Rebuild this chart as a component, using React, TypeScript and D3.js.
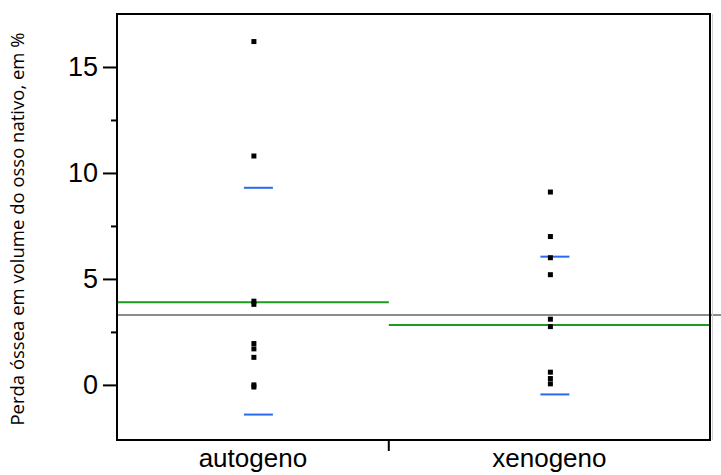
import * as d3 from "d3";
import { useEffect, useRef } from "react";

// groups and sample sizes (JMP scales group width by n)
const groups = ["autogeno", "xenogeno"];
const groupN = [11, 13];

// individual observations, % loss of native bone volume
const autogenoValues = [16.2, 10.8, 3.95, 3.8, 1.95, 1.7, 1.3, 0.0, -0.1];
const xenogenoValues = [9.1, 7.0, 6.0, 5.2, 3.1, 2.75, 0.6, 0.3, 0.05];

// group means and mean ± sd
const groupMeans = [3.9, 2.83];
const groupUpper = [9.3, 6.05];
const groupLower = [-1.4, -0.45];
const grandMean = 3.3;

const majorTicks = [0, 5, 10, 15];
const minorTicks = [2.5, 7.5, 12.5];

export default function App() {
  const ref = useRef<SVGSVGElement>(null);

  useEffect(() => {
    const svg = d3.select(ref.current);
    svg.selectAll("*").remove();

    const left = 117,
      right = 710,
      top = 14,
      bottom = 440;

    const y = d3.scaleLinear().domain([-2.6, 17.5]).range([bottom, top]);

    const total = d3.sum(groupN);
    const x = d3.scaleLinear().domain([0, total]).range([left, right]);
    const starts = groupN.map((_, i) => d3.sum(groupN.slice(0, i)));
    const gx0 = (i: number) => x(starts[i]);
    const gx1 = (i: number) => x(starts[i] + groupN[i]);
    const gc = (i: number) => (gx0(i) + gx1(i)) / 2;

    // grand mean line
    svg
      .append("line")
      .attr("x1", left)
      .attr("x2", 721)
      .attr("y1", y(grandMean))
      .attr("y2", y(grandMean))
      .attr("stroke", "#8c8c8c")
      .attr("stroke-width", 2);

    // group means
    svg
      .selectAll("line.mean")
      .data(groupMeans)
      .join("line")
      .attr("class", "mean")
      .attr("x1", (_, i) => gx0(i))
      .attr("x2", (_, i) => gx1(i))
      .attr("y1", (d) => y(d))
      .attr("y2", (d) => y(d))
      .attr("stroke", "#1e9a1e")
      .attr("stroke-width", 2);

    // sd bars
    const sd = groupUpper
      .map((v, i) => ({ v, i }))
      .concat(groupLower.map((v, i) => ({ v, i })));
    svg
      .selectAll("line.sd")
      .data(sd)
      .join("line")
      .attr("class", "sd")
      .attr("x1", (d) => gc(d.i) - 9)
      .attr("x2", (d) => gc(d.i) + 20)
      .attr("y1", (d) => y(d.v))
      .attr("y2", (d) => y(d.v))
      .attr("stroke", "#2a6af0")
      .attr("stroke-width", 2);

    // points
    const pts = [autogenoValues, xenogenoValues].flatMap((vals, i) =>
      vals.map((v) => ({ v, i }))
    );
    svg
      .selectAll("rect.pt")
      .data(pts)
      .join("rect")
      .attr("class", "pt")
      .attr("x", (d) => gc(d.i) - 1.5)
      .attr("y", (d) => y(d.v) - 2.5)
      .attr("width", 5)
      .attr("height", 5)
      .attr("fill", "#000");

    // frame
    svg
      .append("rect")
      .attr("x", left)
      .attr("y", top)
      .attr("width", right - left)
      .attr("height", bottom - top)
      .attr("fill", "none")
      .attr("stroke", "#000")
      .attr("stroke-width", 2);

    svg
      .append("line")
      .attr("x1", 712.5)
      .attr("x2", 712.5)
      .attr("y1", top)
      .attr("y2", bottom)
      .attr("stroke", "#d0d0d0")
      .attr("stroke-width", 1);

    // y axis
    const ya = svg.append("g").attr("transform", `translate(${left},0)`);
    ya.call(
      d3
        .axisLeft(y)
        .tickValues(majorTicks)
        .tickSize(14)
        .tickPadding(5)
        .tickFormat(d3.format("d"))
    );
    ya.select(".domain").remove();
    ya.selectAll(".tick line").attr("stroke-width", 2);
    ya.selectAll(".tick text")
      .style("font-family", "Liberation Sans, Arial, sans-serif")
      .style("font-size", "27px")
      .attr("fill", "#000");

    const ym = svg.append("g").attr("transform", `translate(${left},0)`);
    ym.call(d3.axisLeft(y).tickValues(minorTicks).tickSize(6).tickFormat(() => ""));
    ym.select(".domain").remove();
    ym.selectAll(".tick line").attr("stroke-width", 2);

    // x axis: boundary tick and labels
    svg
      .append("line")
      .attr("x1", gx1(0))
      .attr("x2", gx1(0))
      .attr("y1", bottom)
      .attr("y2", bottom + 11)
      .attr("stroke", "#000")
      .attr("stroke-width", 2);

    svg
      .selectAll("text.cat")
      .data(groups)
      .join("text")
      .attr("class", "cat")
      .attr("x", (_, i) => gc(i))
      .attr("y", 467)
      .attr("text-anchor", "middle")
      .style("font-family", "Liberation Sans, Arial, sans-serif")
      .style("font-size", "26px")
      .text((d) => d);

    svg
      .append("text")
      .attr("transform", `translate(24,${(top + bottom) / 2 + 2}) rotate(-90)`)
      .attr("text-anchor", "middle")
      .style("font-family", "Open Sans, sans-serif")
      .style("font-size", "18.5px")
      .text("Perda óssea em volume do osso nativo, em %");
  }, []);

  return (
    <svg
      ref={ref}
      width={721}
      height={475}
      style={{ position: "absolute", left: 0, top: 0, background: "#fff" }}
    />
  );
}
